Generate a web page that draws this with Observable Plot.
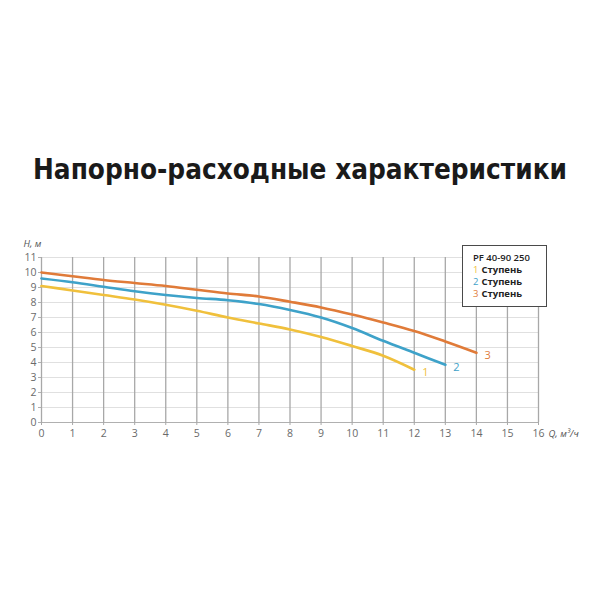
<!DOCTYPE html>
<html>
<head>
<meta charset="utf-8">
<script src="https://cdn.jsdelivr.net/npm/d3@7"></script>
<script src="https://cdn.jsdelivr.net/npm/@observablehq/plot@0.6"></script>
<style>
  html, body { margin: 0; padding: 0; background: #fff; }
  #root { position: relative; width: 600px; height: 600px; overflow: hidden; font-family: "Open Sans", sans-serif; }
  #title { position: absolute; left: 0; top: 135px; width: 600px; text-align: center;
    font-family: "Liberation Sans Narrow", "DejaVu Sans Condensed", sans-serif; font-weight: bold;
    font-size: 35px; line-height: 70px; color: #1a1a1a; white-space: nowrap; }
  #chart { position: absolute; left: 0; top: 230px; }
  #legend {
    position: absolute; left: 462px; top: 245px; width: 83px; height: 60px;
    border: 1.5px solid #4a4a4a; background: #fff; box-sizing: content-box;
    font-family: "Open Sans", sans-serif; font-size: 9.5px; line-height: 12px;
    padding: 0; color: #222;
  }
  #legend .inner { position: absolute; left: 10px; top: 6px; }
  #legend .hdr { font-weight: 600; height: 12px; }
  #legend .row { font-weight: 700; height: 12px; }
  #legend .num { font-weight: 400; margin-right: 3px; }
</style>
</head>
<body>
<div id="root">
  <div id="title"><span id="titleText"></span></div>
  <div id="chart"></div>
  <div id="legend"><div class="inner"></div></div>
</div>
<script>
// ---- data ----
const flowQ = [0, 1, 2, 3, 4, 5, 6, 7, 8, 9, 10, 11, 12, 13, 14];
const stage1H = [9.1, 8.8, 8.5, 8.2, 7.85, 7.45, 7.0, 6.6, 6.2, 5.7, 5.1, 4.45, 3.52];
const stage2H = [9.6, 9.35, 9.05, 8.75, 8.5, 8.3, 8.15, 7.9, 7.5, 7.0, 6.3, 5.45, 4.65, 3.85];
const stage3H = [10.0, 9.75, 9.5, 9.3, 9.1, 8.85, 8.6, 8.4, 8.05, 7.67, 7.2, 6.67, 6.1, 5.4, 4.65];
const stageLabels = ["1", "2", "3"];
const stageColors = ["#f0c03c", "#3ea2c9", "#e07b39"];
const xTicks = [0, 1, 2, 3, 4, 5, 6, 7, 8, 9, 10, 11, 12, 13, 14, 15, 16];
const yTicks = [0, 1, 2, 3, 4, 5, 6, 7, 8, 9, 10, 11];
const legendTitle = "PF 40-90 250";
const legendWord = "Ступень";
const chartTitle = "Напорно-расходные характеристики";
const yLabel = "H, м";
const xLabel = "Q, м³/ч";

// title: fit to the reference width (~534px)
const tt = document.getElementById("titleText");
tt.textContent = chartTitle;
const w = tt.getBoundingClientRect().width;
if (w > 0) {
  const fs = Math.min(40, 35 * 534 / w);
  document.getElementById("title").style.fontSize = fs + "px";
}

const series = [stage1H, stage2H, stage3H];
const rows = [];
series.forEach((arr, i) => arr.forEach((h, j) => rows.push({stage: stageLabels[i], q: flowQ[j], h})));
const ends = series.map((arr, i) => ({stage: stageLabels[i], q: flowQ[arr.length - 1], h: arr[arr.length - 1]}));

const chart = Plot.plot({
  width: 600,
  height: 220,
  marginLeft: 41,
  marginRight: 62,
  marginTop: 27,
  marginBottom: 28,
  style: {fontFamily: "Open Sans, sans-serif", fontSize: "10.5px", background: "transparent"},
  x: {domain: [0, 16]},
  y: {domain: [0, 11]},
  color: {domain: stageLabels, range: stageColors},
  marks: [
    Plot.gridY({ticks: yTicks, stroke: "#e0e0e0", strokeOpacity: 1, strokeWidth: 1}),
    Plot.gridX({ticks: xTicks, stroke: "#a8a8a8", strokeOpacity: 1, strokeWidth: 1.3}),
    Plot.ruleY([0], {stroke: "#b0b0b0", strokeWidth: 1.2}),
    Plot.axisX({ticks: xTicks, tickSize: 3, tickPadding: 4, color: "#6a6a6a", stroke: "#a8a8a8", label: null}),
    Plot.axisY({ticks: yTicks, tickSize: 3, tickPadding: 2, color: "#6a6a6a", stroke: "#b0b0b0", label: null}),
    Plot.line(rows, {x: "q", y: "h", z: "stage", stroke: "stage", strokeWidth: 2.7, curve: "catmull-rom"}),
    Plot.text(ends, {x: "q", y: "h", text: "stage", fill: "stage", dx: 8, dy: 3, textAnchor: "start", fontSize: 11}),
    Plot.text([yLabel], {frameAnchor: "top-left", dx: -18, dy: -17, textAnchor: "start", fontStyle: "italic", fill: "#555", fontSize: 9.5}),
    Plot.text([xLabel], {frameAnchor: "bottom-right", dx: 10, dy: 14, textAnchor: "start", fontStyle: "italic", fill: "#555", fontSize: 9.5})
  ]
});
document.getElementById("chart").appendChild(chart);

// legend
const inner = document.querySelector("#legend .inner");
const hdr = document.createElement("div");
hdr.className = "hdr";
hdr.textContent = legendTitle;
inner.appendChild(hdr);
stageLabels.forEach((s, i) => {
  const r = document.createElement("div");
  r.className = "row";
  const n = document.createElement("span");
  n.className = "num";
  n.style.color = stageColors[i];
  n.textContent = s;
  r.appendChild(n);
  r.appendChild(document.createTextNode(legendWord));
  inner.appendChild(r);
});
</script>
</body>
</html>
